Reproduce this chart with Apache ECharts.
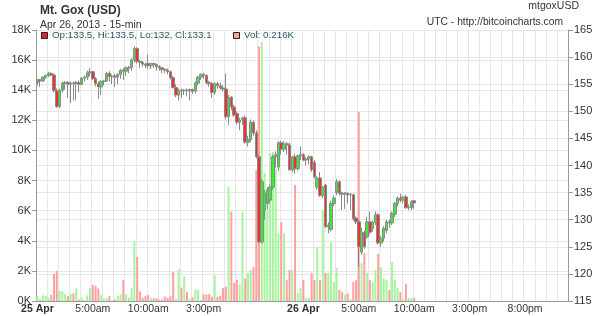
<!DOCTYPE html>
<html>
<head>
<meta charset="utf-8">
<script src="https://cdn.jsdelivr.net/npm/echarts@6/dist/echarts.min.js"></script>
<style>html,body{margin:0;padding:0;background:#fff}#c{width:600px;height:316px}</style>
</head>
<body>
<div id="c"></div>
<script>
// 15-minute candles, 25 Apr 2013 00:00 UTC onward
const open = [155.3,155.8,155.6,156.3,156.6,157.0,156.7,153.8,150.9,153.9,
155.2,155.3,155.0,155.2,155.1,155.3,155.0,156.1,156.3,157.1,
157.3,156.0,155.1,154.5,155.5,155.6,157.0,156.4,156.5,156.3,
156.8,157.6,157.4,158.0,158.1,159.5,161.6,159.2,159.0,158.7,
158.8,158.4,158.8,158.6,158.2,158.0,157.7,157.6,157.3,156.2,
154.4,153.0,153.9,153.8,153.9,153.8,154.0,153.7,155.2,156.3,
156.8,156.6,155.3,155.1,153.5,155.1,154.7,154.3,154.1,149.0,
152.6,150.8,149.6,148.0,148.4,148.8,144.3,144.8,148.0,146.0,
141.6,125.9,131.8,133.0,133.6,136.0,141.6,139.7,144.2,143.0,
144.0,143.8,139.2,141.6,139.4,141.8,142.0,141.0,141.2,141.6,
140.6,136.0,137.7,134.5,136.4,128.7,128.2,133.0,135.0,137.0,
134.9,134.7,134.9,134.6,134.6,130.3,129.6,124.0,127.7,126.8,
129.6,128.4,129.5,130.9,125.7,126.6,128.0,129.6,129.4,131.0,
133.0,134.0,133.6,134.2,132.2,132.2,133.5];
const close = [155.8,155.6,156.3,156.6,157.0,156.7,153.8,150.9,153.9,155.2,
155.3,155.0,155.2,155.1,155.3,155.0,156.1,156.3,157.1,157.3,
156.0,155.1,154.5,155.5,155.6,157.0,156.4,156.5,156.3,156.8,
157.6,157.4,158.0,158.1,159.5,161.6,159.2,159.0,158.7,158.5,
158.4,158.8,158.6,158.2,158.0,157.7,157.6,157.3,156.2,154.4,
153.0,153.9,153.8,153.9,153.8,154.0,153.7,155.2,156.3,156.8,
156.6,155.3,155.1,153.5,155.1,154.7,154.3,154.1,149.0,152.6,
150.8,149.3,148.0,148.4,148.8,144.3,144.8,148.0,146.0,141.6,
125.9,137.0,134.9,135.5,136.0,141.6,142.0,144.2,143.0,144.0,
143.8,139.2,141.6,139.4,141.8,142.0,141.0,141.2,141.6,139.2,
137.9,137.7,134.5,136.0,128.7,129.0,133.0,134.0,137.0,134.9,
134.7,134.9,134.6,134.7,130.2,129.6,125.0,127.7,125.0,129.6,
127.7,129.5,130.9,125.7,126.6,128.4,129.6,129.4,131.2,133.0,
134.0,133.6,134.2,132.2,132.3,133.3,133.1];
const high = [156.0,156.0,156.5,156.8,157.3,157.2,157.0,154.2,154.2,155.5,
155.6,155.6,155.5,155.5,155.6,155.7,156.3,156.6,157.5,158.0,
157.5,156.3,155.5,155.8,155.8,157.3,157.4,156.8,156.9,157.0,
157.8,158.0,158.3,158.4,159.8,162.0,161.8,159.5,159.3,159.0,
160.5,159.0,159.0,158.8,158.5,158.2,158.0,157.9,157.5,156.5,
155.0,154.2,154.2,154.1,154.2,154.2,154.2,155.5,156.5,157.0,
157.1,156.8,155.6,155.4,155.4,155.4,155.3,154.8,157.0,153.0,
152.8,151.2,150.0,148.8,149.0,149.2,145.5,148.5,148.3,146.5,
142.0,137.5,135.5,136.0,136.5,142.0,142.6,144.5,144.6,144.5,
144.3,144.2,141.8,142.2,142.0,143.5,142.3,141.5,141.9,141.8,
141.0,138.0,138.8,136.2,136.6,129.5,133.5,134.5,137.5,137.3,
135.2,135.1,135.0,134.9,134.8,130.6,130.0,128.5,128.0,130.5,
131.5,129.8,131.5,131.2,127.0,128.8,130.0,130.0,131.5,133.3,
134.3,134.8,134.4,134.6,132.8,133.6,133.5];
const low = [154.8,154.5,155.4,156.0,156.3,156.5,153.5,150.6,150.6,153.5,
154.0,152.5,151.5,152.0,152.0,153.5,154.8,155.5,155.8,156.5,
155.8,154.6,152.3,153.0,154.8,155.4,155.5,155.0,154.5,155.0,
156.0,155.8,156.5,157.0,157.5,159.0,158.8,158.0,158.2,158.0,
157.8,157.8,158.0,157.5,157.5,157.0,157.0,156.8,155.9,154.2,
152.6,152.0,152.5,153.0,152.8,152.0,153.2,153.3,154.8,155.8,
156.0,155.0,154.5,152.5,153.0,154.2,154.0,153.6,148.5,147.5,
150.2,148.9,147.6,146.5,147.5,144.0,143.5,144.3,145.5,141.3,
125.6,125.6,130.0,132.0,133.0,135.5,139.6,139.0,142.0,142.5,
142.0,139.0,138.8,138.5,139.0,141.0,140.8,140.0,140.2,138.8,
137.6,135.5,134.2,134.0,128.5,127.5,127.8,132.5,134.5,134.5,
131.8,132.0,133.0,131.8,129.8,129.2,121.3,123.5,124.6,126.5,
127.3,127.8,129.0,125.4,125.0,126.0,127.5,128.5,129.0,130.5,
132.5,133.2,133.0,132.0,131.8,131.8,132.0];
const volume = [330,100,380,330,220,400,1790,2010,690,640,460,330,460,510,860,110,200,60,380,860,1060,1020,840,400,150,200,330,40,100,330,440,1390,440,200,
880,3940,2940,640,220,330,400,220,180,170,100,100,290,200,310,1930,110,2120,890,1640,620,150,240,780,750,60,460,420,460,290,1700,290,350,860,950,
7590,5930,1200,1390,1100,5930,1500,1860,2060,2260,8700,16900,17200,
8500,7400,9800,9900,8800,4500,5250,4500,1390,2060,2060,7700,530,860,1390,200,200,1860,1390,3590,1390,6000,1860,1860,3900,1260,2190,730,600,400,500,130,1260,1390,
12550,
2500,3190,1860,1390,1260,2060,3120,2260,1500,1390,730,2590,1390,860,600,130,1130,200,200,216];

// 48 hours of 15-minute slots
const slotCount = 192;
const xTickLabels = {0:'25 Apr',20:'5:00am',40:'10:00am',60:'3:00pm',96:'26 Apr',116:'5:00am',136:'10:00am',156:'3:00pm',176:'8:00pm'};
const boldLabels = ['25 Apr','26 Apr'];
const volTicks = [0,2000,4000,6000,8000,10000,12000,14000,16000,18000];
const priceTicks = [115,120,125,130,135,140,145,150,155,160,165];

const categories = [];
for (let i = 0; i < slotCount; i++) categories.push(String(i));

const UP = '#33ee33', DOWN = '#f03030';
const UPV = '#a6f59e', DOWNV = '#ffa0a0', FLATV = '#c8c8c8';

const candleData = open.map((o, i) => [o, close[i], low[i], high[i]]);
const volData = volume.map((v, i) => ({
  value: v,
  itemStyle: { color: close[i] > open[i] ? UPV : (close[i] < open[i] ? DOWNV : FLATV) }
}));

const n = open.length;
const legendOHLC = `Op:${open[n-1]}, Hi:${high[n-1]}, Lo:${low[n-1]}, Cl:${close[n-1]}`;
const legendVol = `Vol: ${(volume[n-1]/1000).toFixed(3)}K`;

const FONT = 'Liberation Sans, Arial, sans-serif';
const chart = echarts.init(document.getElementById('c'), null, { renderer: 'canvas' });
chart.setOption({
  animation: false,
  backgroundColor: '#fff',
  textStyle: { fontFamily: FONT },
  title: [
    { text: 'Mt. Gox (USD)', left: 35, top: 0, textStyle: { fontSize: 12, fontWeight: 'bold', color: '#333', fontFamily: FONT } },
    { text: 'Apr 26, 2013 - 15-min', left: 35, top: 15, textStyle: { fontSize: 10.5, fontWeight: 'normal', color: '#333', fontFamily: FONT } }
  ],
  graphic: [
    { type: 'text', z: 100, right: 21, top: 1, style: { text: 'mtgoxUSD', fontSize: 10.5, fill: '#333', fontFamily: FONT } },
    { type: 'text', z: 100, right: 37, top: 17, style: { text: 'UTC - http://bitcoincharts.com', fontSize: 10.3, fill: '#333', fontFamily: FONT } },
    { type: 'rect', z: 100, left: 41, top: 32, shape: { width: 6, height: 6 }, style: { fill: '#ee2020', stroke: '#222', lineWidth: 1 } },
    { type: 'text', z: 100, left: 52, top: 30, style: { text: legendOHLC, fontSize: 9.8, fill: '#2b5a5e', fontFamily: FONT } },
    { type: 'rect', z: 100, left: 233, top: 32, shape: { width: 6, height: 6 }, style: { fill: '#ffa0a0', stroke: '#222', lineWidth: 1 } },
    { type: 'text', z: 100, left: 244, top: 30, style: { text: legendVol, fontSize: 9.8, fill: '#2b5a5e', fontFamily: FONT } }
  ],
  grid: { left: 36, right: 32, top: 30, bottom: 15, containLabel: false },
  xAxis: {
    type: 'category',
    data: categories,
    boundaryGap: true,
    axisLine: { show: true, lineStyle: { color: '#999' } },
    axisTick: { show: false },
    axisLabel: {
      interval: (idx) => xTickLabels[idx] !== undefined,
      formatter: (val, idx) => {
        const t = xTickLabels[idx];
        if (t === undefined) return '';
        return boldLabels.includes(t) ? '{b|' + t + '}' : t;
      },
      rich: { b: { fontWeight: 'bold', fontSize: 10.5, color: '#333', fontFamily: FONT } },
      fontSize: 10.5, color: '#333', margin: 3, fontFamily: FONT
    },
    splitLine: { show: true, interval: (idx) => idx % 4 === 0, lineStyle: { color: '#e6e6e6', width: 1 } }
  },
  yAxis: [
    {
      type: 'value', position: 'left', min: volTicks[0], max: volTicks[volTicks.length-1], interval: 2000,
      axisLine: { show: true, lineStyle: { color: '#999' } },
      axisTick: { show: true, length: 4, lineStyle: { color: '#999' } },
      axisLabel: { formatter: (v) => (v/1000) + 'K', fontSize: 11, color: '#333', margin: 5, fontFamily: FONT },
      splitLine: { show: true, lineStyle: { color: '#e6e6e6' } }
    },
    {
      type: 'value', position: 'right', min: priceTicks[0], max: priceTicks[priceTicks.length-1], interval: 5,
      axisLine: { show: true, lineStyle: { color: '#999' } },
      axisTick: { show: true, length: 5, lineStyle: { color: '#999' } },
      axisLabel: { fontSize: 11, color: '#333', margin: 6, fontFamily: FONT },
      splitLine: { show: true, lineStyle: { color: '#e6e6e6' } }
    }
  ],
  series: [
    {
      type: 'bar', yAxisIndex: 0, data: volData, barWidth: 2, z: 1,
      itemStyle: { borderWidth: 0 }
    },
    {
      type: 'candlestick', yAxisIndex: 1, data: candleData, barWidth: 3, z: 3,
      itemStyle: { color: UP, color0: DOWN, borderColor: '#8a8a8a', borderColor0: '#8a8a8a', borderWidth: 1 }
    }
  ]
});
</script>
</body>
</html>
